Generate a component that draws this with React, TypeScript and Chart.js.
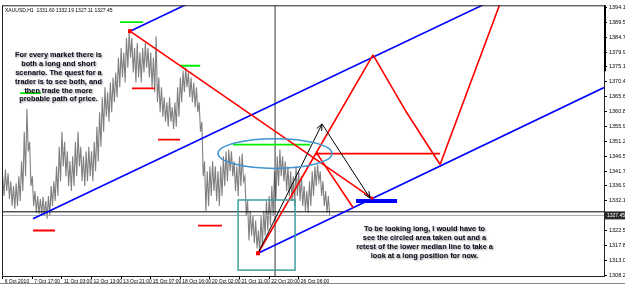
import React, { useEffect, useRef } from 'react';
import { Chart, registerables } from 'chart.js';
Chart.register(...registerables);

// ---- axes ----
const xTickBars = [0, 33, 66, 99, 132, 165, 198, 231, 264, 297, 330];
const xTickLabels = ['6 Oct 2010', '7 Oct 17:00', '11 Oct 03:00', '12 Oct 13:00', '13 Oct 21:00', '15 Oct 07:00', '18 Oct 16:00', '20 Oct 02:00', '21 Oct 11:00', '22 Oct 20:00', '26 Oct 06:00'];
const yTickValues = [1394.1, 1389.5, 1384.7, 1379.9, 1375.1, 1370.4, 1365.6, 1360.8, 1355.9, 1351.2, 1346.5, 1341.7, 1336.9, 1332.1, 1322.5, 1317.8, 1313.0, 1308.2];
const header = 'XAUUSD,H1  1331.60 1332.19 1327.11 1327.45';
const bidPrice = 1327.45;

// ---- price bars (one sample every 3 H1 bars) ----
const barStep = 3;
const barHigh = [
  1340.0, 1342.2, 1341.0, 1338.4, 1336.9, 1337.8, 1340.0, 1344.8, 1354.3, 1361.6,
  1351.1, 1340.0, 1335.3, 1333.7, 1332.7, 1333.4, 1332.1, 1333.7, 1336.9, 1338.4,
  1343.2, 1349.5, 1354.3, 1351.1, 1348.0, 1344.8, 1346.4, 1351.1, 1354.3, 1349.5,
  1346.4, 1348.0, 1349.5, 1348.0, 1351.1, 1355.9, 1360.6, 1365.4, 1368.6, 1367.0,
  1370.1, 1371.7, 1373.3, 1378.1, 1381.2, 1379.7, 1384.4, 1386.6, 1384.4, 1381.2,
  1382.8, 1379.7, 1381.2, 1382.8, 1381.2, 1379.7, 1378.1, 1385.0, 1371.7, 1368.6,
  1365.4, 1363.8, 1365.4, 1362.2, 1363.8, 1368.6, 1371.7, 1373.9, 1374.9, 1373.3,
  1371.7, 1370.1, 1368.6, 1363.8, 1357.5, 1344.8, 1341.6, 1343.2, 1344.8, 1343.2,
  1341.6, 1343.2, 1346.4, 1348.0, 1348.6, 1348.0, 1344.8, 1343.2, 1346.4, 1347.3,
  1340.0, 1332.1, 1328.9, 1327.3, 1325.8, 1322.6, 1327.3, 1328.9, 1332.1, 1333.7,
  1336.9, 1341.6, 1346.4, 1348.6, 1346.4, 1344.8, 1343.2, 1341.6, 1340.0, 1343.2,
  1341.6, 1340.0, 1336.9, 1335.3, 1338.4, 1341.6, 1343.2, 1343.8, 1341.6, 1338.4,
  1335.3, 1333.7,
];
const barLow = [
  1333.7, 1335.3, 1332.7, 1330.5, 1329.6, 1330.5, 1332.1, 1335.3, 1340.0, 1348.0,
  1336.9, 1330.5, 1328.3, 1328.0, 1327.7, 1327.3, 1326.4, 1327.3, 1330.5, 1332.1,
  1333.7, 1338.4, 1343.2, 1340.0, 1336.9, 1335.3, 1336.9, 1340.0, 1343.2, 1338.4,
  1336.9, 1338.4, 1340.0, 1338.4, 1341.6, 1344.8, 1349.5, 1354.3, 1359.1, 1357.5,
  1360.6, 1363.8, 1365.4, 1368.6, 1371.7, 1370.1, 1374.9, 1378.1, 1373.3, 1370.1,
  1371.7, 1370.1, 1373.3, 1374.9, 1371.7, 1368.6, 1367.0, 1363.8, 1360.6, 1359.1,
  1357.5, 1355.9, 1357.5, 1355.2, 1355.9, 1359.1, 1363.8, 1367.0, 1368.6, 1365.4,
  1363.8, 1362.2, 1360.6, 1354.3, 1340.0, 1328.9, 1330.5, 1333.7, 1335.3, 1332.1,
  1330.5, 1333.7, 1336.9, 1338.4, 1341.6, 1340.0, 1335.3, 1333.7, 1336.9, 1338.4,
  1327.3, 1319.4, 1321.0, 1318.5, 1316.9, 1315.3, 1317.8, 1321.0, 1322.6, 1324.2,
  1327.3, 1332.1, 1336.9, 1340.0, 1338.4, 1335.3, 1333.7, 1332.1, 1330.5, 1333.7,
  1332.1, 1330.5, 1328.9, 1328.3, 1330.5, 1333.7, 1336.9, 1338.4, 1333.7, 1330.5,
  1328.3, 1327.3,
];

// ---- drawn objects (bar index, price) ----
const blueLines = [
  [141.9, 1386.6, 207.1, 1395.5],
  [33.8, 1326.4, 538.8, 1395.5],
  [284.6, 1315.3, 670.3, 1368.5],
];
const redLines = [
  [141.9, 1386.6, 411.7, 1333.0],
  [284.6, 1315.3, 412.8, 1379.0],
  [412.8, 1379.0, 448.5, 1361.3],
  [448.5, 1361.3, 487.6, 1343.8],
  [487.6, 1343.8, 554.5, 1395.5],
  [350.4, 1347.3, 390.5, 1330.0],
  [350.4, 1347.3, 487.6, 1347.3],
];
const blackArrows = [
  [284.6, 1315.3, 356.0, 1356.8],
  [356.0, 1356.8, 409.5, 1333.0],
];
const greenLevels = [
  [130.8, 156.4, 1389.5],
  [197.7, 220.2, 1375.5],
  [256.7, 342.6, 1350.2],
  [19.3, 42.7, 1366.7],
];
const redLevels = [
  [33.8, 58.3, 1322.6],
  [144.1, 169.8, 1368.2],
  [173.1, 197.7, 1351.8],
  [217.7, 244.5, 1324.2],
];
const targetZone = [393.9, 439.6, 1332.1];
const userLevel = 1328.6;
const vLineBar = 303.6;
const redPivots = [[141.9, 1386.6], [284.6, 1315.3]];
const redDots = [[350.4, 1347.3], [411.7, 1333.0]];
const circleArea = { bar: 303.6, price: 1347.3, dBar: 63.5, dPrice: 4.76 };
const boxArea = { bar1: 262.4, bar2: 325.9, price1: 1332.4, price2: 1309.9 };

const noteLeft = ['For every market there is', 'both a long and short', 'scenario. The quest for a', 'trader is to see both, and', 'then trade the more', 'probable path of price.'];
const noteLeftAnchor = { bar: 62.2, price: 1378.8 };
const noteRight = ['To be looking long, I would have to', 'see the circled area taken out and a', 'retest of the lower median line to take a', 'look at a long position for now.'];
const noteRightAnchor = { bar: 470.2, price: 1323.2 };

const FONT = '"Liberation Sans", Arial, sans-serif';

function segDs(s: number[], color: string, width: number) {
  return {
    data: [{ x: s[0], y: s[1] }, { x: s[2], y: s[3] }],
    showLine: true, borderColor: color, backgroundColor: color, borderWidth: width,
    pointRadius: 0, order: 1,
  };
}

const overlay = {
  id: 'overlay',
  afterDatasetsDraw(chart: any) {
    const { ctx, chartArea: ca, scales } = chart;
    const X = (v: number) => scales.x.getPixelForValue(v);
    const Y = (v: number) => scales.y.getPixelForValue(v);
    ctx.save();
    ctx.beginPath();
    ctx.rect(ca.left, ca.top, ca.right - ca.left, ca.bottom - ca.top);
    ctx.clip();
    ctx.strokeStyle = '#3f95cf';
    ctx.lineWidth = 1.5;
    ctx.beginPath();
    const cx = X(circleArea.bar), cy = Y(circleArea.price);
    const rx = X(circleArea.bar + circleArea.dBar) - cx;
    const ry = Y(circleArea.price - circleArea.dPrice) - cy;
    ctx.ellipse(cx, cy, Math.abs(rx), Math.abs(ry), 0, 0, Math.PI * 2);
    ctx.stroke();
    ctx.strokeStyle = '#3a9e9e';
    ctx.lineWidth = 1.5;
    const rx1 = X(boxArea.bar1), rx2 = X(boxArea.bar2), ry1 = Y(boxArea.price1), ry2 = Y(boxArea.price2);
    ctx.strokeRect(rx1, ry1, rx2 - rx1, ry2 - ry1);
    ctx.strokeStyle = '#000';
    ctx.lineWidth = 1;
    blackArrows.forEach((s) => {
      const x1 = X(s[0]), y1 = Y(s[1]), x2 = X(s[2]), y2 = Y(s[3]);
      const a = Math.atan2(y2 - y1, x2 - x1);
      ctx.beginPath();
      ctx.moveTo(x2 - 7 * Math.cos(a - 0.4), y2 - 7 * Math.sin(a - 0.4));
      ctx.lineTo(x2, y2);
      ctx.lineTo(x2 - 7 * Math.cos(a + 0.4), y2 - 7 * Math.sin(a + 0.4));
      ctx.stroke();
    });
    ctx.fillStyle = '#ff0000';
    redPivots.forEach((p) => ctx.fillRect(X(p[0]) - 2, Y(p[1]) - 2, 4, 4));
    redDots.forEach((p) => { ctx.beginPath(); ctx.arc(X(p[0]), Y(p[1]), 1.6, 0, Math.PI * 2); ctx.fill(); });
    const drawNote = (lines: string[], anchor: { bar: number; price: number }, step: number) => {
      ctx.font = `bold 7.3px ${FONT}`;
      ctx.textAlign = 'center';
      ctx.textBaseline = 'middle';
      ctx.shadowColor = 'rgba(0,0,0,0.45)';
      ctx.shadowBlur = 2;
      ctx.shadowOffsetX = 1;
      ctx.shadowOffsetY = 1;
      ctx.fillStyle = '#0a0a1a';
      const ax = X(anchor.bar), ay = Y(anchor.price);
      lines.forEach((t, i) => ctx.fillText(t, ax, ay + i * step));
      ctx.shadowColor = 'transparent';
      ctx.shadowBlur = 0;
      ctx.shadowOffsetX = 0;
      ctx.shadowOffsetY = 0;
    };
    drawNote(noteLeft, noteLeftAnchor, 8.8);
    drawNote(noteRight, noteRightAnchor, 9);
    ctx.restore();

    ctx.save();
    ctx.font = `5px ${FONT}`;
    ctx.fillStyle = '#000';
    ctx.textAlign = 'left';
    ctx.textBaseline = 'middle';
    ctx.fillText(header, ca.left + 3, ca.top + 5);
    ctx.strokeStyle = '#222';
    ctx.lineWidth = 1;
    ctx.strokeRect(ca.left + 0.5, ca.top + 0.5, ca.right - ca.left, ca.bottom - ca.top);
    ctx.fillStyle = '#000';
    ctx.fillRect(ca.right, ca.top, 2, 66);
    ctx.strokeStyle = '#8a8a8a';
    ctx.beginPath();
    ctx.moveTo(0, 283.5);
    ctx.lineTo(625, 283.5);
    ctx.stroke();
    const by = Y(bidPrice);
    ctx.fillStyle = '#2a2a2a';
    ctx.fillRect(ca.right + 1, by - 4, 20, 8);
    ctx.fillStyle = '#fff';
    ctx.font = `5px ${FONT}`;
    ctx.fillText(bidPrice.toFixed(2), ca.right + 3, by);
    ctx.restore();
  },
};

export default function App() {
  const ref = useRef<HTMLCanvasElement>(null);
  useEffect(() => {
    document.body.style.margin = '0';
    const candles = barHigh.flatMap((h, i) => [
      { x: i * barStep, y: h },
      { x: i * barStep + barStep / 2, y: barLow[i] },
    ]);
    const datasets: any[] = [];
    blackArrows.forEach((s) => datasets.push(segDs(s, '#000000', 1)));
    datasets.push({
      data: [{ x: targetZone[0], y: targetZone[2] }, { x: targetZone[1], y: targetZone[2] }],
      showLine: true, borderColor: '#0000ff', borderWidth: 4, pointRadius: 0, order: 1, borderCapStyle: 'butt',
    });
    redLines.forEach((s) => datasets.push(segDs(s, '#ff0000', 1.6)));
    blueLines.forEach((s) => datasets.push(segDs(s, '#0000ff', 1.6)));
    greenLevels.forEach((g) => datasets.push(segDs([g[0], g[2], g[1], g[2]], '#00ee00', 1.8)));
    redLevels.forEach((g) => datasets.push(segDs([g[0], g[2], g[1], g[2]], '#ff0000', 1.8)));
    datasets.push({ ...segDs([-1, userLevel, 671, userLevel], '#000000', 1), order: 2 });
    datasets.push({ ...segDs([-1, bidPrice, 671, bidPrice], '#a0a8b0', 1), order: 2 });
    datasets.push({ ...segDs([vLineBar, 1300, vLineBar, 1400], '#333333', 1), order: 2 });
    datasets.push({
      data: candles, showLine: true, borderColor: '#808080', borderWidth: 1.1,
      pointRadius: 0, order: 5,
    });

    const chart = new Chart(ref.current!, {
      type: 'scatter',
      data: { datasets },
      options: {
        animation: false,
        responsive: false,
        devicePixelRatio: 1,
        events: [],
        layout: { padding: { left: 2, top: 2, right: 0, bottom: 0 } },
        plugins: { legend: { display: false }, tooltip: { enabled: false } },
        scales: {
          x: {
            type: 'linear',
            position: 'bottom',
            min: -0.78,
            max: 670.3,
            afterBuildTicks: (s: any) => { s.ticks = xTickBars.map((v) => ({ value: v })); },
            afterFit: (s: any) => { s.height = 10; },
            grid: { drawOnChartArea: false, drawTicks: true, tickLength: 3, color: '#000' },
            border: { display: true, color: '#000' },
            ticks: {
              autoSkip: false, maxRotation: 0, minRotation: 0, align: 'start', padding: 0, labelOffset: 2,
              font: { size: 5, family: FONT }, color: '#000',
              callback: (v: any) => xTickLabels[xTickBars.indexOf(Number(v))] ?? '',
            },
          },
          y: {
            type: 'linear',
            position: 'right',
            min: 1308.0,
            max: 1394.9,
            afterBuildTicks: (s: any) => { s.ticks = yTickValues.map((v) => ({ value: v })); },
            afterFit: (s: any) => { s.width = 21; },
            grid: { drawOnChartArea: false, drawTicks: true, tickLength: 3, color: '#000' },
            border: { display: true, color: '#000' },
            ticks: {
              autoSkip: false, padding: 2,
              font: { size: 5.5, family: FONT }, color: '#000',
              callback: (v: any) => Number(v).toFixed(1),
            },
          },
        },
      },
      plugins: [overlay],
    } as any);
    return () => chart.destroy();
  }, []);
  return (
    <div style={{ width: 625, height: 286, background: '#fff' }}>
      <canvas ref={ref} width={625} height={286} style={{ display: 'block' }} />
    </div>
  );
}
